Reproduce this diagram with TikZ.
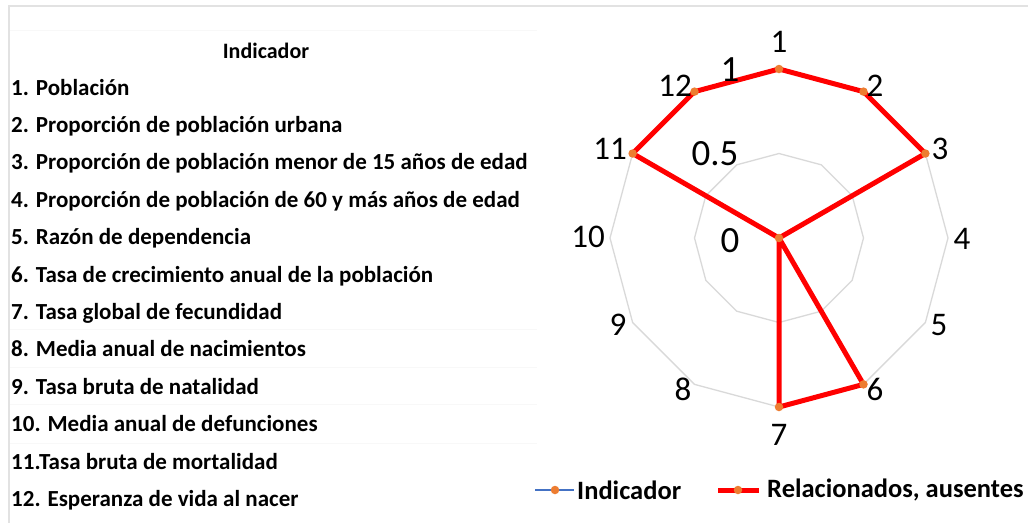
\documentclass[tikz,border=0pt]{standalone}
\usepackage{fontspec}
\setmainfont{Carlito}
\usetikzlibrary{calc}
\definecolor{redline}{HTML}{FF0000}
\definecolor{markc}{HTML}{ED7D31}
\definecolor{gridc}{HTML}{D9D9D9}
\definecolor{blueline}{HTML}{4472C4}
\definecolor{framec}{HTML}{E2E2E2}
\definecolor{faintc}{HTML}{F8F8F8}
\begin{document}
\begin{tikzpicture}[x=1pt,y=-1pt,
  rowtext/.style={anchor=base west,font=\bfseries\fontsize{23}{27}\selectfont,inner sep=0pt},
  headtext/.style={anchor=base,font=\bfseries\fontsize{22}{26}\selectfont,inner sep=0pt},
  catlabel/.style={font=\fontsize{33}{36}\selectfont,inner sep=0pt},
  vallabel/.style={font=\fontsize{37}{40}\selectfont,inner sep=0pt},
  legtext/.style={anchor=west,font=\bfseries\fontsize{26.5}{30}\selectfont,inner sep=0pt},
  gridline/.style={draw=gridc,line width=1.3pt,line join=round},
  series/.style={draw=redline,line width=5pt,line join=round},
  dot/.style={circle,fill=markc,inner sep=0pt,minimum size=8.5pt}]
\useasboundingbox (0,0) rectangle (1028,523);
\fill[white] (0,0) rectangle (1028,523);
% frame and faint table rules
\foreach \yy in {30,329,367,404,443}{\draw[faintc,line width=0.8pt] (9,\yy) -- (537,\yy);}
\draw[framec,line width=1.2pt] (9,523) -- (9,6) -- (1028,6);
% table text
\node[headtext] (head) at (266,58) {Indicador};
\foreach \t [count=\i] in {1. Población,2. Proporción de población urbana,3. Proporción de población menor de 15 años de edad,4. Proporción de población de 60 y más años de edad,5. Razón de dependencia,6. Tasa de crecimiento anual de la población,7. Tasa global de fecundidad,8. Media anual de nacimientos,9. Tasa bruta de natalidad,10. Media anual de defunciones,11.Tasa bruta de mortalidad,12. Esperanza de vida al nacer}{
  \node[rowtext] (row\i) at (11,{95+(\i-1)*37.4}) {\t};
}
% radar geometry
\coordinate (c) at (779,238);
\foreach \i in {1,...,12}{
  \coordinate (o\i) at ($(c)+({169*sin(30*(\i-1))},{-169*cos(30*(\i-1))})$);
  \coordinate (h\i) at ($(c)+({84.5*sin(30*(\i-1))},{-84.5*cos(30*(\i-1))})$);
}
\draw[gridline] (o1)--(o2)--(o3)--(o4)--(o5)--(o6)--(o7)--(o8)--(o9)--(o10)--(o11)--(o12)--cycle;
\draw[gridline] (h1)--(h2)--(h3)--(h4)--(h5)--(h6)--(h7)--(h8)--(h9)--(h10)--(h11)--(h12)--cycle;
% series
\draw[series] (o1)--(o2)--(o3)--(c)--(o6)--(o7)--(c)--(o11)--(o12)--cycle;
\foreach \p in {o1,o2,o3,c,o6,o7,o11,o12}{\node[dot] at (\p) {};}
% category labels
\node[catlabel] (l1) at (779,42) {1};
\node[catlabel] (l2) at (875,86) {2};
\node[catlabel] (l3) at (940,149) {3};
\node[catlabel] (l4) at (962,239) {4};
\node[catlabel] (l5) at (939,325) {5};
\node[catlabel] (l6) at (875,389) {6};
\node[catlabel] (l7) at (779,435) {7};
\node[catlabel] (l8) at (683,389) {8};
\node[catlabel] (l9) at (618,325) {9};
\node[catlabel] (l10) at (588,237) {10};
\node[catlabel] (l11) at (610,149) {11};
\node[catlabel] (l12) at (675,86) {12};
% value axis labels
\node[vallabel] (v1) at (730,70) {1};
\node[vallabel] (v05) at (715,154) {0.5};
\node[vallabel] (v0) at (730,241) {0};
% legend
\coordinate (b1) at (535,490);
\coordinate (b2) at (574,490);
\draw[blueline,line width=2.5pt] (b1) -- (b2);
\node[dot] (bm) at (555,490) {};
\node[legtext] (lg1) at (577,490) {Indicador};
\coordinate (r1) at (718,490);
\coordinate (r2) at (759,490);
\draw[redline,line width=5pt] (r1) -- (r2);
\node[dot] (rm) at (738,490) {};
\node[legtext] (lg2) at (767,490) {Relacionados, ausentes};
\end{tikzpicture}
\end{document}
